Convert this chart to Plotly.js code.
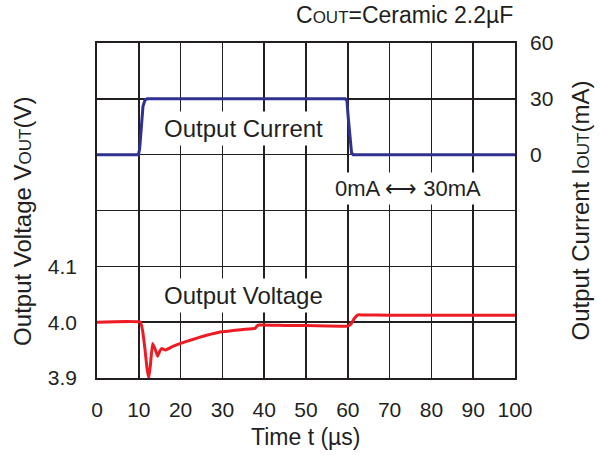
<!DOCTYPE html>
<html>
<head>
<meta charset="utf-8">
<script src="https://cdn.plot.ly/plotly-3.0.1.min.js"></script>
<style>html,body{margin:0;padding:0;background:#fff;}#chart{width:603px;height:455px;}</style>
</head>
<body>
<div id="chart"></div>
<script>
// Output current trace (time in µs, current in mA)
const currentTime = [0, 9.9, 10.2, 10.6, 11.0, 11.5, 12.0, 59.4, 59.8, 60.1, 60.5, 60.9, 61.3, 100];
const currentValue = [0, 0, 3, 15, 26, 29.5, 30, 30, 29, 20, 8, 1, 0, 0];

// Output voltage trace (time in µs, voltage in V)
const voltageTime = [0, 10.4, 10.9, 11.5, 12.0, 12.4, 12.8, 13.3, 13.9, 14.5, 15.0, 15.5, 16.3, 18, 20, 22.5, 25, 27.5, 30, 32.5, 35, 37.8, 38.4, 38.8, 45, 50, 55, 60, 60.8, 61.6, 62.4, 63.5, 70, 80, 90, 100];
const voltageValue = [4.0, 4.0, 3.985, 3.95, 3.915, 3.9, 3.925, 3.962, 3.952, 3.939, 3.948, 3.953, 3.95, 3.956, 3.962, 3.968, 3.974, 3.979, 3.983, 3.985, 3.987, 3.989, 3.994, 3.995, 3.994, 3.994, 3.993, 3.993, 3.997, 4.007, 4.013, 4.013, 4.0125, 4.0125, 4.0125, 4.0125];

// Axis ticks
const xTicks = [0, 10, 20, 30, 40, 50, 60, 70, 80, 90, 100];
const vTickVals = [3.9, 4.0, 4.1, 4.2, 4.3, 4.4, 4.5];
const vTickText = ['3.9', '4.0', '4.1', '', '', '', ''];
const iTickVals = [0, 30, 60];
const iTickText = ['0', '30', '60'];

const ink = '#231f20';
const fontFam = 'Liberation Sans, Arial, Helvetica, sans-serif';

const traces = [
  {x: voltageTime, y: voltageValue, type: 'scatter', mode: 'lines', yaxis: 'y',
   line: {color: '#ed1c24', width: 3, shape: 'spline', smoothing: 0.3}, hoverinfo: 'skip'},
  {x: currentTime, y: currentValue, type: 'scatter', mode: 'lines', yaxis: 'y2',
   line: {color: '#2e3192', width: 3}, hoverinfo: 'skip'}
];

const layout = {
  width: 603, height: 455,
  margin: {l: 97, r: 88, t: 43, b: 77, pad: 0},
  paper_bgcolor: '#fff', plot_bgcolor: '#fff',
  showlegend: false,
  font: {family: fontFam, color: ink, size: 21},
  xaxis: {
    range: [0, 100], tickvals: xTicks, ticks: '', ticklabelstandoff: 12,
    showgrid: true, gridcolor: ink, gridwidth: 1.5,
    showline: true, linecolor: ink, linewidth: 1.8, mirror: true, zeroline: false,
    tickfont: {size: 21, color: ink}
  },
  yaxis: {
    range: [3.9, 4.5], tickvals: vTickVals, ticktext: vTickText, ticks: '', ticklabelstandoff: 14,
    showgrid: true, gridcolor: ink, gridwidth: 1.5,
    showline: true, linecolor: ink, linewidth: 1.8, mirror: true, zeroline: false,
    tickfont: {size: 21, color: ink}
  },
  yaxis2: {
    range: [-120, 60], tickvals: iTickVals, ticktext: iTickText, overlaying: 'y', side: 'right',
    ticks: '', ticklabelstandoff: 14, showgrid: false, zeroline: false, showline: false,
    tickfont: {size: 21, color: ink}
  },
  annotations: [
    {xref: 'paper', yref: 'paper', x: 0.5, y: -0.175, xanchor: 'center', yanchor: 'middle',
     text: 'Time t (µs)', showarrow: false, font: {size: 23, color: ink}},
    {xref: 'paper', yref: 'paper', x: 0, y: 0.466, xshift: -74, xanchor: 'center', yanchor: 'middle',
     textangle: -90, text: "Output Voltage V<span style='font-size:17px'>OUT</span>(V)", showarrow: false,
     font: {size: 24, color: ink}},
    {xref: 'paper', yref: 'paper', x: 1, y: 0.5, xshift: 65, xanchor: 'center', yanchor: 'middle',
     textangle: -90, text: "Output Current I<span style='font-size:17px'>OUT</span>(mA)", showarrow: false,
     font: {size: 24, color: ink}},
    {xref: 'paper', yref: 'paper', x: 1, y: 1.0836, xanchor: 'right', yanchor: 'middle',
     text: "C<span style='font-size:17px'>OUT</span>=Ceramic 2.2µF", showarrow: false,
     font: {size: 23, color: ink}},
    {xref: 'x', yref: 'y2', x: 35, y: 14, xanchor: 'center', yanchor: 'middle',
     text: 'Output Current', showarrow: false, bgcolor: '#fff', borderpad: 3,
     font: {size: 24, color: ink}},
    {xref: 'x', yref: 'y', x: 35, y: 4.0486, xanchor: 'center', yanchor: 'middle',
     text: 'Output Voltage', showarrow: false, bgcolor: '#fff', borderpad: 3,
     font: {size: 24, color: ink}},
    {xref: 'x', yref: 'y2', x: 74.4, y: -18, xanchor: 'center', yanchor: 'middle',
     text: '0mA ⟷ 30mA', showarrow: false, bgcolor: '#fff', borderpad: 3,
     font: {size: 22, color: ink}}
  ]
};

Plotly.newPlot('chart', traces, layout, {staticPlot: true, displayModeBar: false});
</script>
</body>
</html>
